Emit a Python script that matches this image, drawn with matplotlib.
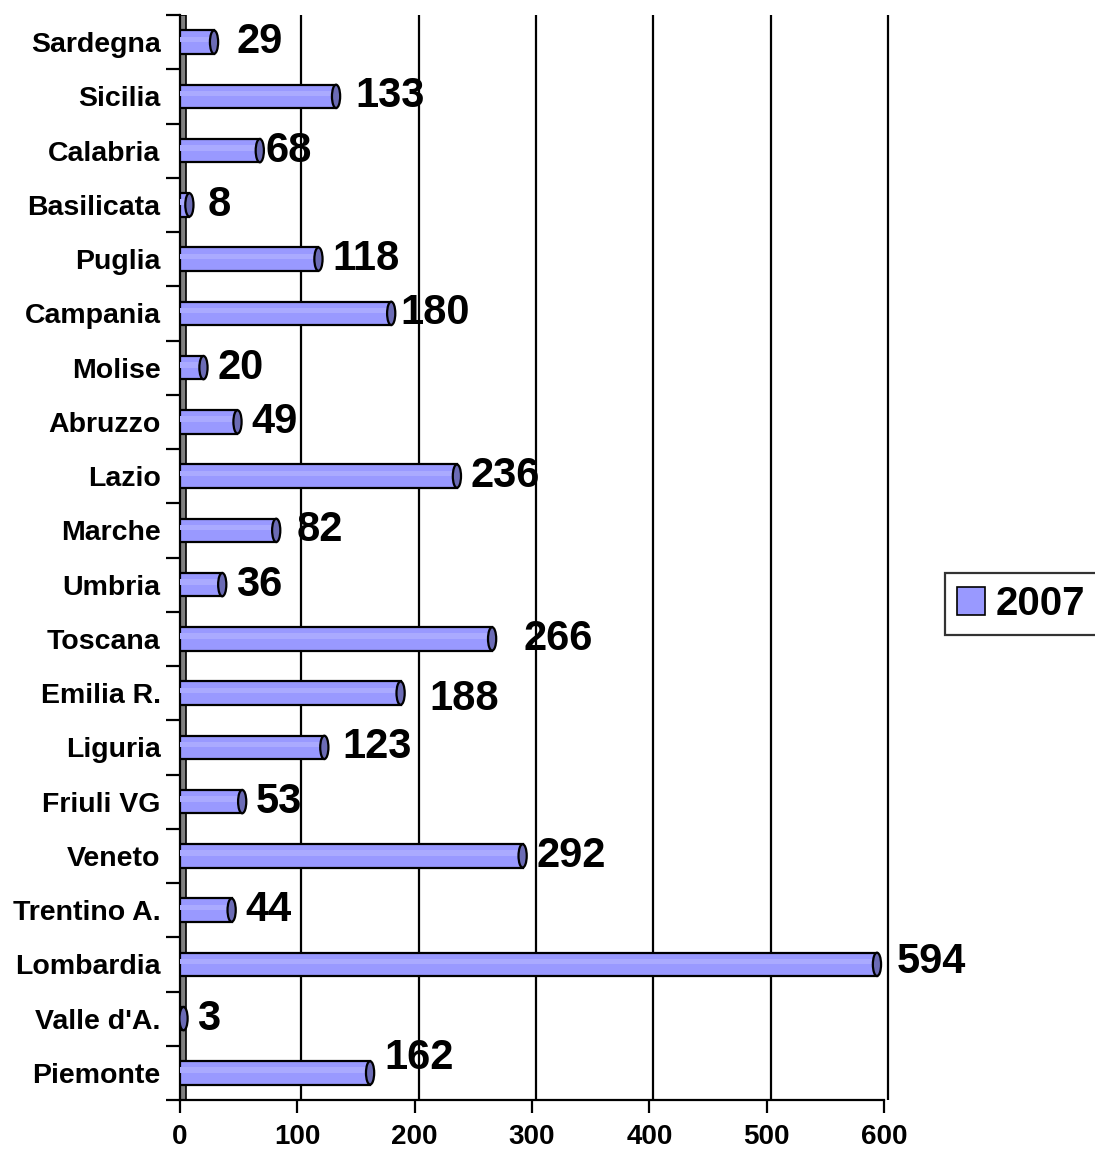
import matplotlib
matplotlib.use("Agg")
import matplotlib.pyplot as plt
from matplotlib.patches import Ellipse, Patch
from matplotlib.transforms import ScaledTranslation

plt.rcParams['font.family'] = ['Liberation Sans', 'DejaVu Sans']
plt.rcParams['font.weight'] = 'bold'

# regions, bottom to top as drawn
regions = ['Piemonte', "Valle d'A.", 'Lombardia', 'Trentino A.', 'Veneto',
           'Friuli VG', 'Liguria', 'Emilia R.', 'Toscana', 'Umbria', 'Marche',
           'Lazio', 'Abruzzo', 'Molise', 'Campania', 'Puglia', 'Basilicata',
           'Calabria', 'Sicilia', 'Sardegna']
values_2007 = [162, 3, 594, 44, 292, 53, 123, 188, 266, 36, 82,
               236, 49, 20, 180, 118, 8, 68, 133, 29]
x_ticks = [0, 100, 200, 300, 400, 500, 600]

# hand placed labels in the original (points)
label_nudge = {'Sardegna': (6, 0), 'Sicilia': (4, 0), 'Calabria': (-6, 0),
               'Basilicata': (3, 0), 'Campania': (-3, 0), 'Marche': (5, 0),
               'Toscana': (13, 0), 'Emilia R.': (11, -4), 'Liguria': (3, 0),
               'Lombardia': (4, 2), 'Piemonte': (0, 11)}

bar_color = '#9999ff'
cap_color = '#6b6bb5'

fig = plt.figure(figsize=(10.95, 11.51), dpi=100)
ax = fig.add_axes([180 / 1095, 51 / 1151, 704 / 1095, 1085 / 1151])
ax.set_xlim(0, 600)
ax.set_ylim(-0.5, len(regions) - 0.5)

# depth offset for the back wall / gridlines
shift = ax.get_xaxis_transform() + ScaledTranslation(4 / 100, 0, fig.dpi_scale_trans)
ax.vlines(x_ticks[1:], 0, 1, transform=shift, color='black', lw=1.6,
          zorder=1, clip_on=False)
ax.axvspan(0, 5, facecolor='#808080', edgecolor='black', lw=1.2, zorder=1)

h = 0.43
ypos = list(range(len(regions)))
ax.barh(ypos, values_2007, height=h, color=bar_color, edgecolor='black',
        lw=1.6, zorder=3)
# lighter highlight band for the cylinder look
ax.barh([y + 0.05 for y in ypos], values_2007, height=0.1, color='#aaaaff',
        lw=0, zorder=3)
for y, v, name in zip(ypos, values_2007, regions):
    ax.add_patch(Ellipse((v, y), width=7, height=h, facecolor=cap_color,
                         edgecolor='black', lw=1.6, zorder=4))
    dx, dy = label_nudge.get(name, (0, 0))
    ax.annotate(str(v), (v + 3.5, y), xytext=(7 + dx, dy),
                textcoords='offset points', ha='left', va='center',
                fontsize=30, fontweight='bold', zorder=5)

ax.set_xticks(x_ticks)
ax.set_xticklabels([str(t) for t in x_ticks], fontsize=20, fontweight='bold')
ax.tick_params(axis='x', length=9, width=1.6, pad=8)
ax.set_yticks(ypos)
ax.set_yticklabels(regions, fontsize=20.5, fontweight='bold')
ax.set_yticks([y - 0.5 for y in range(len(regions) + 1)], minor=True)
ax.tick_params(axis='y', which='major', length=0, pad=14)
ax.tick_params(axis='y', which='minor', length=10, width=1.6)

for s in ['top', 'right']:
    ax.spines[s].set_visible(False)
for s in ['left', 'bottom']:
    ax.spines[s].set_linewidth(1.6)

fig.legend(handles=[Patch(facecolor=bar_color, edgecolor='black', lw=1.2)],
           labels=['2007'], loc='upper left',
           bbox_to_anchor=(945 / 1095, 1 - 573 / 1151),
           prop={'weight': 'bold', 'size': 29},
           frameon=True, fancybox=False, edgecolor='black',
           handlelength=0.7, handleheight=0.7, handletextpad=0.25,
           borderpad=0.3, borderaxespad=0)
fig.legends[0].get_frame().set_linewidth(1.6)

plt.savefig('out.png', dpi=100)
